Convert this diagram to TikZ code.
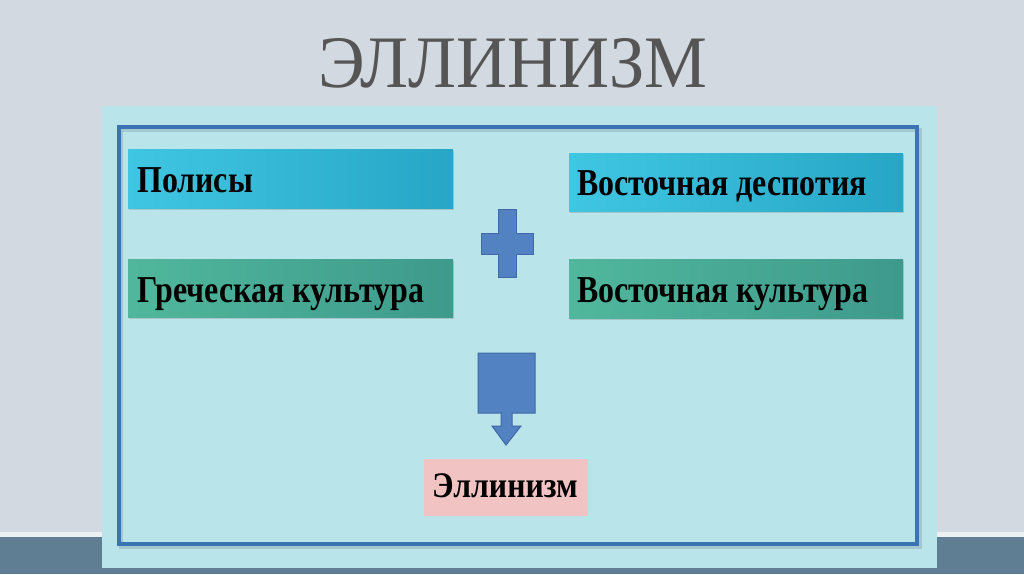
\documentclass[tikz,border=0pt]{standalone}
\usepackage{fontspec}
\setmainfont{Liberation Serif}
\usetikzlibrary{shadows}
\definecolor{bgc}{HTML}{D2D9E0}
\definecolor{bandc}{HTML}{5F7E93}
\definecolor{panelc}{HTML}{B9E4EA}
\definecolor{framec}{HTML}{3A74B2}
\definecolor{cyanL}{HTML}{3FC6E2}
\definecolor{cyanR}{HTML}{27A6C6}
\definecolor{tealL}{HTML}{50B79C}
\definecolor{tealR}{HTML}{3E9A8C}
\definecolor{shapec}{HTML}{5282C2}
\definecolor{shapeb}{HTML}{3F68A6}
\definecolor{pinkc}{HTML}{F2C3C3}
\definecolor{titlec}{HTML}{555555}
\tikzset{
  boxtext/.style={font=\fontsize{38}{44}\selectfont\bfseries, text=black, anchor=base west, inner sep=0pt, xscale=0.84},
  cyanbox/.style={left color=cyanL, right color=cyanR, drop shadow={shadow xshift=1pt,shadow yshift=-1.5pt,opacity=0.3}},
  tealbox/.style={left color=tealL, right color=tealR, drop shadow={shadow xshift=1pt,shadow yshift=-1.5pt,opacity=0.3}},
  blueshape/.style={fill=shapec, draw=shapeb, line width=1pt}
}
\begin{document}
\begin{tikzpicture}[x=1pt,y=-1pt]
\useasboundingbox (0,0) rectangle (1024,574);
\fill[bgc] (0,0) rectangle (1024,574);
\fill[bandc] (0,537) rectangle (1024,574);
\fill[white!60!bgc] (0,532) rectangle (1024,537);
% panel
\fill[panelc] (102,106) rectangle (937,568);
% frame with shadow
\draw[black, opacity=0.12, line width=4pt] (121,130) rectangle (920,547);
\draw[framec, line width=3.5pt] (119,127) rectangle (917,544);
% boxes
\path[cyanbox] (128,149) rectangle (453,208);
\path[tealbox] (128,259) rectangle (453,317);
\path[cyanbox] (569,153) rectangle (903,211);
\path[tealbox] (569,259) rectangle (903,318);
\node[boxtext] (polis) at (137,192) {Полисы};
\node[boxtext] (greek) at (137,302) {Греческая культура};
\node[boxtext] (desp) at (577,195) {Восточная деспотия};
\node[boxtext] (east) at (577,302) {Восточная культура};
% plus
\path[blueshape] (498,209) -- (516,209) -- (516,233) -- (533,233) -- (533,254) -- (516,254) -- (516,277) -- (498,277) -- (498,254) -- (481,254) -- (481,233) -- (498,233) -- cycle;
% arrow
\path[blueshape] (478,353) -- (535,353) -- (535,413) -- (512,413) -- (512,426) -- (521,426) -- (506,445) -- (492,426) -- (501,426) -- (501,413) -- (478,413) -- cycle;
% result
\fill[pinkc] (424,459) rectangle (588,516);
\node[boxtext, anchor=base, xscale=1.05, font=\fontsize{36}{40}\selectfont\bfseries] (hell) at (505,497) {Эллинизм};
% title
\node[anchor=base, inner sep=0pt, text=titlec, font=\fontsize{74}{80}\selectfont, xscale=0.955] (title) at (513,87) {ЭЛЛИНИЗМ};
\end{tikzpicture}
\end{document}
